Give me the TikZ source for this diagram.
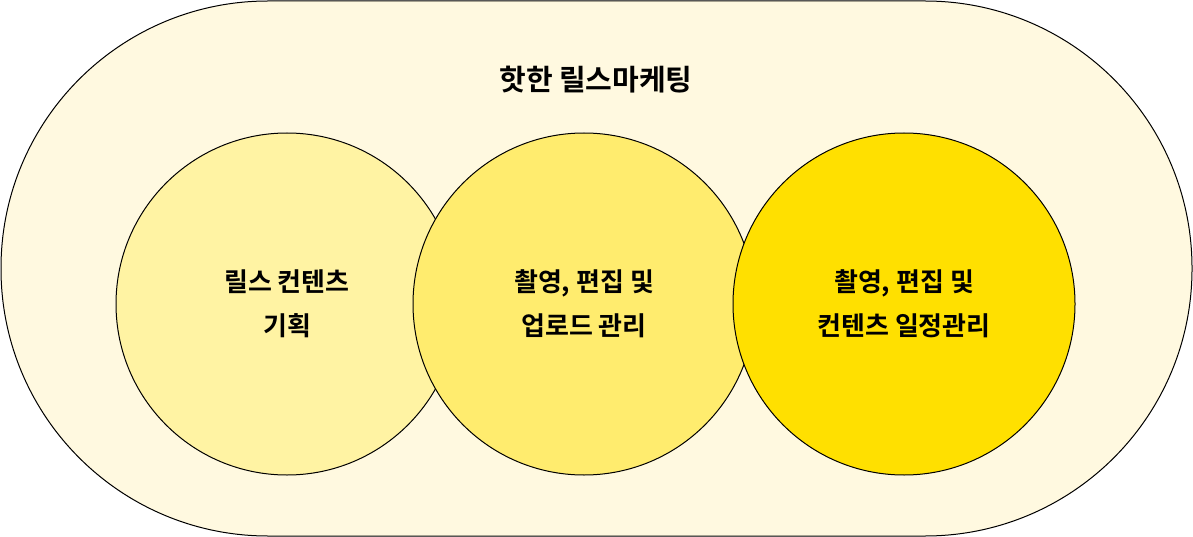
\documentclass[tikz,border=0pt]{standalone}
\usepackage{fontspec}
\setmainfont{Noto Sans CJK KR}[BoldFont={* Bold}]
\definecolor{bgc}{HTML}{FFF9E0}
\definecolor{c1}{HTML}{FFF3A3}
\definecolor{c2}{HTML}{FFEC6E}
\definecolor{c3}{HTML}{FFE000}
\tikzset{circ/.style={circle,draw=black,line width=1pt,minimum size=342pt,inner sep=0pt,align=center,font=\fontsize{26}{44}\selectfont\bfseries}}
\begin{document}
\begin{tikzpicture}[x=1pt,y=-1pt]
\useasboundingbox (0,0) rectangle (1193,537);
\draw[fill=bgc,line width=1pt,rounded corners=267pt] (1,1) rectangle (1192,536);
\node[font=\fontsize{29}{34}\selectfont\bfseries] (t) at (596,80) {핫한 릴스마케팅};
\node[circ,fill=c1] (a) at (287,304) {릴스 컨텐츠\\기획};
\node[circ,fill=c2] (b) at (584,304) {촬영, 편집 및\\업로드 관리};
\node[circ,fill=c3] (c) at (904,304) {촬영, 편집 및\\컨텐츠 일정관리};
\end{tikzpicture}
\end{document}
